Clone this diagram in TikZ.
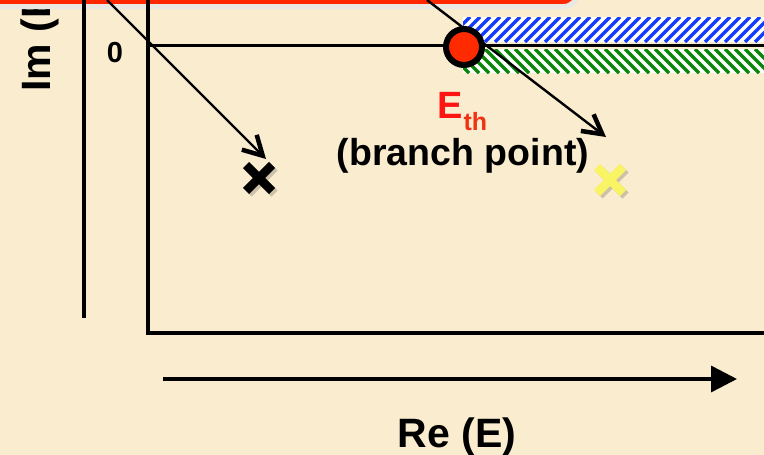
\documentclass[tikz,border=0pt]{standalone}
\usepackage{fontspec}
\setmainfont{Liberation Sans}
\usetikzlibrary{arrows.meta}
\definecolor{bg}{RGB}{249,236,207}
\definecolor{bandred}{RGB}{255,38,0}
\definecolor{bandgrey}{RGB}{233,232,226}
\definecolor{dotred}{RGB}{255,42,0}
\definecolor{ered}{RGB}{255,20,20}
\definecolor{thred}{RGB}{240,50,20}
\definecolor{hblue}{RGB}{20,60,255}
\definecolor{hgreen}{RGB}{10,135,10}
\definecolor{xyellow}{RGB}{248,244,100}
\tikzset{
  axisline/.style={line width=4pt},
  pointer/.style={line width=2.4pt,-{Straight Barb[length=19pt,width=21pt,line width=4.5pt]}},
  xmark/.style={line width=8.5pt},
  xshadow/.style={line width=8.5pt,black,opacity=0.18},
  hatchline/.style={line width=3.5pt},
  lbl/.style={inner sep=0pt,font=\bfseries},
}
\begin{document}
\begin{tikzpicture}[x=1pt,y=-1pt]
\path[use as bounding box] (0,0) rectangle (764,455);
\clip (0,0) rectangle (764,455);
\fill[bg] (0,0) rectangle (764,455);

% axis label Im (E)
\node[lbl,rotate=90,anchor=base west] (imlabel) at (50,92) {\fontsize{41pt}{41pt}\selectfont Im (E)};

% top red band
\draw[fill=bandred,draw=bandgrey,line width=5pt,rounded corners=14pt] (-30,-60) rectangle (577.5,6.5);

% left axis line
\draw[axisline] (84,0) -- (84,318);

% frame
\draw[axisline] (148,0) -- (148,333) -- (775,333);
\draw[line width=3.5pt] (148,45.5) -- (775,45.5);

% hatched bands
\fill[white] (463,17) rectangle (770,42);
\begin{scope}
  \clip (463,17) rectangle (770,42);
  \foreach \i in {0,...,34} {
    \draw[hatchline,hblue] (435+10*\i,42) -- (460+10*\i,17);
  }
\end{scope}
\fill[white] (463,49) rectangle (770,73);
\begin{scope}
  \clip (463,49) rectangle (770,73);
  \foreach \i in {0,...,34} {
    \draw[hatchline,hgreen] (435+10*\i,49) -- (459+10*\i,73);
  }
\end{scope}

% zero label
\node[lbl] (zero) at (115,53) {\fontsize{29pt}{29pt}\selectfont 0};

% pointer arrows
\coordinate (p1s) at (107,0);
\coordinate (p1e) at (266,159);
\coordinate (p2s) at (427,0);
\coordinate (p2e) at (606,137);
\draw[pointer] (p1s) -- (p1e);
\draw[pointer] (p2s) -- (p2e);

% branch point
\node[circle,fill=dotred,draw=black,line width=6pt,minimum size=36pt,inner sep=0pt] (eth) at (464,47) {};

% labels
\node[lbl,anchor=base west] (ethlabel) at (437,118) {\fontsize{38pt}{38pt}\selectfont\color{ered}E\kern1pt\raisebox{-12pt}{\fontsize{25pt}{25pt}\selectfont\color{thred}th}};
\node[lbl,anchor=base] (bp) at (463,165) {\fontsize{37.5pt}{37.5pt}\selectfont (branch point)};

% crosses
\coordinate (xa) at (259,178);
\coordinate (xb) at (610,180);
\foreach \c/\col in {xa/black,xb/xyellow} {
  \draw[xshadow] ([shift={(-13,-13)}]\c) ++(2.5,2.5) -- ++(26,26);
  \draw[xshadow] ([shift={(13,-13)}]\c) ++(2.5,2.5) -- ++(-26,26);
  \draw[xmark,\col] ([shift={(-13,-13)}]\c) -- ([shift={(13,13)}]\c);
  \draw[xmark,\col] ([shift={(13,-13)}]\c) -- ([shift={(-13,13)}]\c);
}

% Re axis
\coordinate (res) at (163,379);
\coordinate (ree) at (737,379);
\draw[line width=3.5pt,-{Triangle[length=26pt,width=26pt]}] (res) -- (ree);
\node[lbl,anchor=base] (relabel) at (457,447) {\fontsize{41pt}{41pt}\selectfont Re (E)};
\end{tikzpicture}
\end{document}
